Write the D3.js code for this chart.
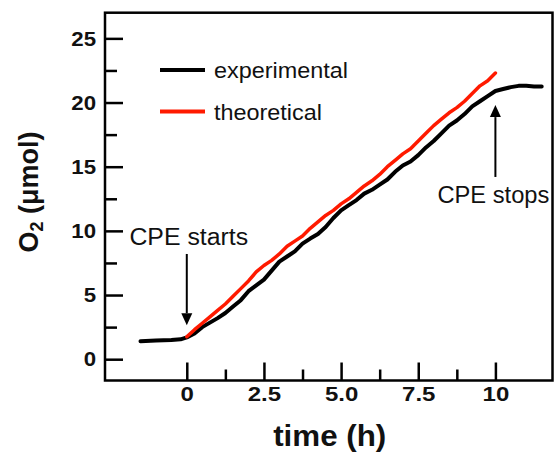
<!DOCTYPE html>
<html>
<head>
<meta charset="utf-8">
<script src="https://cdn.jsdelivr.net/npm/d3@7"></script>
<style>
  html, body { margin: 0; padding: 0; background: #fff; }
  svg { display: block; font-family: "Liberation Sans", Arial, Helvetica, sans-serif; }
</style>
</head>
<body>
<svg id="chart" width="555" height="455"></svg>
<script>
// O2 evolved during controlled-potential electrolysis (CPE)
const expTime = [-1.5, -1.0, -0.5, -0.2, 0, 0.25, 0.5, 0.75, 1.0, 1.25, 1.5, 1.75, 2.0, 2.25, 2.5, 2.75,
  3.0, 3.25, 3.5, 3.75, 4.0, 4.25, 4.5, 4.75, 5.0, 5.25, 5.5, 5.75, 6.0, 6.25, 6.5, 6.75,
  7.0, 7.25, 7.5, 7.75, 8.0, 8.25, 8.5, 8.75, 9.0, 9.25, 9.5, 9.75, 10.0, 10.25, 10.5, 10.75,
  11.0, 11.25, 11.5];
const expO2 = [1.4, 1.45, 1.5, 1.55, 1.7, 2.0, 2.5, 2.85, 3.2, 3.6, 4.1, 4.6, 5.3, 5.75, 6.2, 6.9,
  7.6, 8.0, 8.4, 9.0, 9.4, 9.75, 10.3, 11.0, 11.6, 12.0, 12.4, 12.9, 13.2, 13.6, 14.0, 14.6,
  15.1, 15.4, 15.9, 16.5, 17.0, 17.6, 18.2, 18.6, 19.1, 19.7, 20.1, 20.5, 20.9, 21.05, 21.2, 21.3,
  21.3, 21.25, 21.25];

const theoTime = [0, 0.25, 0.5, 0.75, 1.0, 1.25, 1.5, 1.75, 2.0, 2.25, 2.5, 2.75, 3.0, 3.25, 3.5, 3.75,
  4.0, 4.25, 4.5, 4.75, 5.0, 5.25, 5.5, 5.75, 6.0, 6.25, 6.5, 6.75, 7.0, 7.25, 7.5, 7.75,
  8.0, 8.25, 8.5, 8.75, 9.0, 9.25, 9.5, 9.75, 10.0];
const theoO2 = [1.75, 2.3, 2.8, 3.3, 3.8, 4.3, 4.9, 5.5, 6.1, 6.8, 7.3, 7.7, 8.2, 8.8, 9.2, 9.6,
  10.2, 10.7, 11.2, 11.6, 12.1, 12.5, 13.0, 13.5, 13.9, 14.4, 15.0, 15.5, 16.0, 16.4, 17.0, 17.6,
  18.2, 18.7, 19.2, 19.6, 20.1, 20.7, 21.3, 21.7, 22.3];

const seriesNames = ["experimental", "theoretical"];
const seriesColors = ["#000000", "#ff1a00"];

const xTickValues = [0, 2.5, 5, 7.5, 10];
const xTickLabels = ["0", "2.5", "5.0", "7.5", "10"];
const xMinorTicks = [1.25, 3.75, 6.25, 8.75];
const yTickValues = [0, 5, 10, 15, 20, 25];
const yMinorTicks = [2.5, 7.5, 12.5, 17.5, 22.5];

// annotation arrows: [time, tail O2, head O2]
const startArrow = [0, 8.2, 2.65];
const stopArrow = [10, 14.2, 19.8];

const svg = d3.select("#chart");
const m = { left: 105, right: 552.5, top: 12.7, bottom: 380.5 };

const x = d3.scaleLinear().domain([-2.65, 11.85]).range([m.left, m.right]);
const y = d3.scaleLinear().domain([-1.66, 27.0]).range([m.bottom, m.top]);

// widen text glyphs horizontally by factor k (keeps anchor position)
function widen(sel, k) {
  sel.each(function () {
    const w = this.getComputedTextLength();
    d3.select(this).attr("textLength", w * k).attr("lengthAdjust", "spacingAndGlyphs");
  });
}

// frame
svg.append("rect")
  .attr("x", m.left).attr("y", m.top)
  .attr("width", m.right - m.left).attr("height", m.bottom - m.top)
  .attr("fill", "none").attr("stroke", "#000").attr("stroke-width", 2.5);

// axes: major and minor ticks pointing inward
const xAxis = svg.append("g").attr("transform", `translate(0,${m.bottom})`)
  .call(d3.axisBottom(x).tickValues(xTickValues).tickSize(-18).tickPadding(29)
    .tickFormat((d, i) => xTickLabels[i]));
const xMinor = svg.append("g").attr("transform", `translate(0,${m.bottom})`)
  .call(d3.axisBottom(x).tickValues(xMinorTicks).tickSize(-11).tickFormat(""));

const yAxis = svg.append("g").attr("transform", `translate(${m.left},0)`)
  .call(d3.axisLeft(y).tickValues(yTickValues).tickSize(-18).tickPadding(9));
const yMinor = svg.append("g").attr("transform", `translate(${m.left},0)`)
  .call(d3.axisLeft(y).tickValues(yMinorTicks).tickSize(-12).tickFormat(""));

[xAxis, xMinor, yAxis, yMinor].forEach(g => {
  g.select(".domain").remove();
  g.selectAll(".tick line").attr("stroke", "#000").attr("stroke-width", 2.5);
  g.selectAll(".tick text")
    .attr("fill", "#111").attr("font-size", 20).attr("font-weight", "bold")
    .attr("font-family", "'Liberation Sans', Arial, sans-serif");
});
xAxis.selectAll(".tick text").attr("dy", "0.32em").attr("y", 14.5);
yAxis.selectAll(".tick text").attr("font-size", 21);
widen(xAxis.selectAll(".tick text"), 1.2);
widen(yAxis.selectAll(".tick text"), 1.06);

// axis titles
const xTitle = svg.append("text")
  .attr("x", (m.left + m.right) / 2 + 1).attr("y", 446)
  .attr("text-anchor", "middle").attr("font-size", 29).attr("font-weight", "bold")
  .attr("fill", "#111")
  .text("time (h)");
widen(xTitle, 1.08);

const yTitle = svg.append("text")
  .attr("transform", "translate(38,192) rotate(-90)")
  .attr("text-anchor", "middle").attr("font-size", 27).attr("font-weight", "bold")
  .attr("fill", "#111");
yTitle.append("tspan").text("O");
yTitle.append("tspan").attr("font-size", 18).attr("dy", 5).text("2");
yTitle.append("tspan").attr("dy", -5).text(" (μmol)");

// data lines
const line = d3.line().x(d => x(d[0])).y(d => y(d[1])).curve(d3.curveLinear);
const expData = expTime.map((t, i) => [t, expO2[i]]);
const theoData = theoTime.map((t, i) => [t, theoO2[i]]);

svg.append("path").datum(expData)
  .attr("d", line).attr("fill", "none")
  .attr("stroke", seriesColors[0]).attr("stroke-width", 4)
  .attr("stroke-linejoin", "round").attr("stroke-linecap", "round");
svg.append("path").datum(theoData)
  .attr("d", line).attr("fill", "none")
  .attr("stroke", seriesColors[1]).attr("stroke-width", 3.5)
  .attr("stroke-linejoin", "round").attr("stroke-linecap", "round");

// legend
const legend = svg.append("g");
seriesNames.forEach((name, i) => {
  const ly = 70 + i * 41.5;
  legend.append("line")
    .attr("x1", 160).attr("x2", 205).attr("y1", ly).attr("y2", ly)
    .attr("stroke", seriesColors[i]).attr("stroke-width", 4);
  const t = legend.append("text")
    .attr("x", 214).attr("y", ly + 8)
    .attr("font-size", 22.5).attr("fill", "#111")
    .text(name);
  widen(t, 1.04);
});

// annotation arrows
function arrow(spec) {
  const ax = x(spec[0]), y0 = y(spec[1]), y1 = y(spec[2]);
  const dir = y1 > y0 ? 1 : -1;
  const headLen = 12, headHalf = 5.5;
  svg.append("line")
    .attr("x1", ax).attr("x2", ax).attr("y1", y0).attr("y2", y1 - dir * headLen)
    .attr("stroke", "#000").attr("stroke-width", 2);
  svg.append("path")
    .attr("d", `M${ax},${y1} L${ax - headHalf},${y1 - dir * headLen} L${ax + headHalf},${y1 - dir * headLen} Z`)
    .attr("fill", "#000");
}
arrow(startArrow);
arrow(stopArrow);

const startLabel = svg.append("text")
  .attr("x", x(startArrow[0]) + 2).attr("y", y(startArrow[1]) - 9)
  .attr("text-anchor", "middle").attr("font-size", 23).attr("fill", "#111")
  .text("CPE starts");
widen(startLabel, 1.08);
const stopLabel = svg.append("text")
  .attr("x", x(stopArrow[0]) - 2).attr("y", y(stopArrow[1]) + 26)
  .attr("text-anchor", "middle").attr("font-size", 23).attr("fill", "#111")
  .text("CPE stops");
widen(stopLabel, 1.03);
</script>
</body>
</html>
